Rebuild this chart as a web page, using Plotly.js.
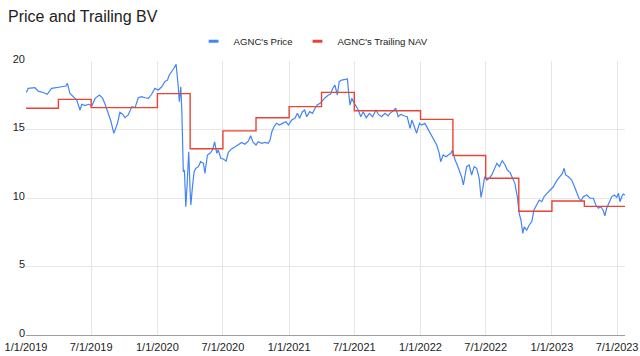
<!DOCTYPE html>
<html>
<head>
<meta charset="utf-8">
<script src="https://cdn.plot.ly/plotly-3.0.1.min.js"></script>
<style>html,body{margin:0;padding:0;background:#fff;}#chart{width:640px;height:356px;}</style>
</head>
<body>
<div id="chart"></div>
<script>
const seriesNames = ["AGNC's Price", "AGNC's Trailing NAV"];

const priceDates = [
"2019-01-02","2019-01-07","2019-01-26","2019-02-04","2019-02-18","2019-03-01","2019-03-13","2019-03-27","2019-04-10","2019-04-22","2019-04-26",
"2019-05-03","2019-05-12","2019-05-22","2019-05-31","2019-06-05","2019-06-14","2019-06-23","2019-07-03","2019-07-12","2019-07-24","2019-08-02",
"2019-08-08","2019-08-17","2019-08-25","2019-09-02","2019-09-12","2019-09-19","2019-09-27","2019-10-03","2019-10-12","2019-10-22","2019-10-31",
"2019-11-09","2019-11-18","2019-11-28","2019-12-07","2019-12-16","2019-12-25","2020-01-04","2020-01-13","2020-01-22","2020-01-29","2020-02-03",
"2020-02-10","2020-02-16","2020-02-22","2020-02-25","2020-02-28","2020-03-02","2020-03-06","2020-03-09","2020-03-11","2020-03-13","2020-03-16",
"2020-03-20","2020-03-24","2020-03-28","2020-04-01","2020-04-03","2020-04-07","2020-04-12","2020-04-17","2020-04-24","2020-04-30","2020-05-08",
"2020-05-12","2020-05-19","2020-05-26","2020-06-02","2020-06-08","2020-06-14","2020-06-18","2020-06-25","2020-07-02","2020-07-10","2020-07-16",
"2020-07-25","2020-08-04","2020-08-13","2020-08-22","2020-08-31","2020-09-10","2020-09-16","2020-09-23","2020-10-01","2020-10-07","2020-10-17",
"2020-10-26","2020-11-04","2020-11-09","2020-11-14","2020-11-20","2020-11-27","2020-12-05","2020-12-14","2020-12-23","2020-12-30","2021-01-08",
"2021-01-17","2021-01-24","2021-01-30","2021-02-07","2021-02-13","2021-02-19","2021-02-27","2021-03-07","2021-03-14","2021-03-20","2021-03-28",
"2021-04-04","2021-04-11","2021-04-20","2021-04-26","2021-05-02","2021-05-08","2021-05-15","2021-05-20","2021-05-27","2021-06-05","2021-06-12",
"2021-06-15","2021-06-19","2021-06-24","2021-06-28","2021-07-04","2021-07-12","2021-07-19","2021-07-26","2021-08-03","2021-08-12","2021-08-21",
"2021-08-30","2021-09-06","2021-09-15","2021-09-24","2021-10-03","2021-10-08","2021-10-17","2021-10-24","2021-10-31","2021-11-07","2021-11-16",
"2021-11-25","2021-12-03","2021-12-08","2021-12-15","2021-12-21","2021-12-29","2022-01-04","2022-01-13","2022-01-23","2022-02-01","2022-02-07",
"2022-02-15","2022-02-22","2022-02-26","2022-03-05","2022-03-13","2022-03-19","2022-03-26","2022-03-31","2022-04-07","2022-04-13","2022-04-19",
"2022-04-25","2022-04-30","2022-05-05","2022-05-09","2022-05-16","2022-05-23","2022-05-30","2022-06-06","2022-06-13","2022-06-18","2022-06-23",
"2022-06-28","2022-07-04","2022-07-11","2022-07-18","2022-07-24","2022-08-01","2022-08-08","2022-08-16","2022-08-24","2022-08-30","2022-09-07",
"2022-09-14","2022-09-20","2022-09-27","2022-10-02","2022-10-07","2022-10-12","2022-10-16","2022-10-23","2022-10-30","2022-11-06","2022-11-12",
"2022-11-20","2022-11-27","2022-12-04","2022-12-10","2022-12-17","2022-12-27","2023-01-05","2023-01-14","2023-01-23","2023-01-30","2023-02-04",
"2023-02-08","2023-02-16","2023-02-25","2023-03-04","2023-03-11","2023-03-17","2023-03-23","2023-03-29","2023-04-08","2023-04-17","2023-04-26",
"2023-05-03","2023-05-10","2023-05-17","2023-05-24","2023-05-28","2023-06-02","2023-06-09","2023-06-16","2023-06-23","2023-06-30","2023-07-05",
"2023-07-09","2023-07-14","2023-07-18","2023-07-23"
];
const priceValues = [
17.7,18.0,18.05,17.8,17.7,17.57,18.0,18.08,18.12,18.17,18.37,
17.64,17.4,17.15,16.42,16.84,16.74,16.84,16.74,17.27,17.52,17.27,
16.9,16.2,15.6,14.72,15.45,16.25,16.1,15.86,16.06,16.67,16.6,
17.32,17.4,17.32,17.27,17.57,18.0,17.88,18.12,18.5,18.6,18.98,
19.22,19.47,19.76,19.1,18.12,17.03,18.12,16.3,14.36,11.92,12.04,
9.36,11.19,13.38,10.46,9.49,10.7,11.92,12.17,12.29,12.65,12.53,
11.8,13.14,13.26,13.5,14.1,13.26,13.5,12.9,12.85,12.7,13.33,
13.58,13.74,13.87,14.06,13.92,14.16,14.55,14.06,13.87,14.11,13.99,
14.06,13.99,14.23,14.84,15.2,15.45,15.33,15.45,15.57,15.33,15.69,
15.82,16.18,15.82,16.3,16.42,15.93,16.3,16.18,16.55,16.79,16.91,
17.15,17.32,17.52,17.57,18.0,18.25,17.52,18.49,18.61,18.66,18.69,
17.76,16.79,17.27,17.03,16.79,16.42,15.93,16.3,15.86,16.18,15.93,
16.42,16.1,15.93,16.18,16.0,16.18,16.35,16.55,15.93,16.1,16.0,
15.93,15.08,15.69,15.2,14.72,15.45,15.33,15.45,14.96,14.6,14.23,
13.87,13.26,12.65,13.14,13.01,13.14,13.26,13.5,12.77,12.41,12.04,
11.55,10.95,11.68,12.29,12.41,11.68,12.29,12.17,11.44,10.05,10.7,
11.55,11.31,11.44,11.68,12.09,12.53,12.29,12.72,12.41,12.04,11.85,
11.44,11.07,10.09,8.88,8.39,7.42,7.9,7.66,8.03,8.27,9.12,
9.49,9.85,9.73,10.09,10.3,10.58,10.82,11.25,11.6,11.8,12.17,
11.68,11.55,11.31,10.88,10.46,9.98,9.78,10.09,10.22,9.98,9.98,
9.49,9.25,9.36,9.07,8.69,9.25,9.73,10.09,10.22,10.05,10.34,
9.73,10.09,10.29,10.22
];

const navDates = ["2019-01-01","2019-04-01","2019-07-01","2019-10-01","2020-01-01","2020-04-01","2020-07-01","2020-10-01",
"2021-01-01","2021-04-01","2021-07-01","2021-10-01","2022-01-01","2022-04-01","2022-07-01","2022-10-01",
"2023-01-01","2023-04-01","2023-07-23"];
const navValues = [16.55,17.2,16.6,16.6,17.62,13.6,14.9,15.86,16.67,17.71,16.37,16.37,15.74,13.1,11.44,9.03,9.78,9.39,9.39];

const yTicks = [0,5,10,15,20];
const seriesColors = ['#4285F4', '#EA4335'];

const font = "'Liberation Sans', Arial, sans-serif";

const traces = [
  {x: priceDates, y: priceValues, name: seriesNames[0], type: 'scatter', mode: 'lines',
   line: {color: seriesColors[0], width: 1.2}, showlegend: false},
  {x: navDates, y: navValues, name: seriesNames[1], type: 'scatter', mode: 'lines',
   line: {color: seriesColors[1], width: 1.4, shape: 'hv'}, showlegend: false},
  // legend entries (short dash symbols like the reference)
  {x: [null], y: [null], name: seriesNames[0], type: 'scatter', mode: 'markers',
   marker: {symbol: 'line-ew-open', size: 7, color: seriesColors[0], line: {color: seriesColors[0], width: 3}}},
  {x: [null], y: [null], name: seriesNames[1], type: 'scatter', mode: 'markers',
   marker: {symbol: 'line-ew-open', size: 7, color: seriesColors[1], line: {color: seriesColors[1], width: 3}}}
];

const layout = {
  width: 640, height: 356,
  margin: {l: 26, r: 15, t: 61, b: 21},
  paper_bgcolor: '#ffffff', plot_bgcolor: '#ffffff',
  font: {family: font, size: 11, color: '#444'},
  title: {text: 'Price and Trailing BV', x: 0.0125, xanchor: 'left', xref: 'container',
          y: 0.955, yanchor: 'middle', yref: 'container',
          font: {family: font, size: 16, color: '#222'}},
  showlegend: true,
  legend: {orientation: 'h', x: 0.49, xanchor: 'center', xref: 'container',
           y: 0.884, yanchor: 'middle', yref: 'container', itemclick: false,
           font: {family: font, size: 9.6, color: '#222'}, itemwidth: 30, bgcolor: 'rgba(0,0,0,0)'},
  xaxis: {type: 'date', range: ['2019-01-01', '2023-07-23'], tick0: '2019-01-01', dtick: 'M6',
          tickformat: '%-m/%-d/%Y', showgrid: true, gridcolor: '#e6e6e6', gridwidth: 1,
          zeroline: false, showline: false, ticks: '', ticklabelstandoff: 4,
          tickfont: {family: font, size: 11, color: '#222'}},
  yaxis: {range: [0, 20], tickvals: yTicks, ticktext: yTicks.map(String), showgrid: true,
          gridcolor: '#e6e6e6', gridwidth: 1, zeroline: true, zerolinecolor: '#9e9e9e', zerolinewidth: 1,
          showline: false, ticks: '', ticklabelshift: -2, tickfont: {family: font, size: 11, color: '#222'}}
};

Plotly.newPlot('chart', traces, layout, {staticPlot: true, displayModeBar: false});
</script>
</body>
</html>
